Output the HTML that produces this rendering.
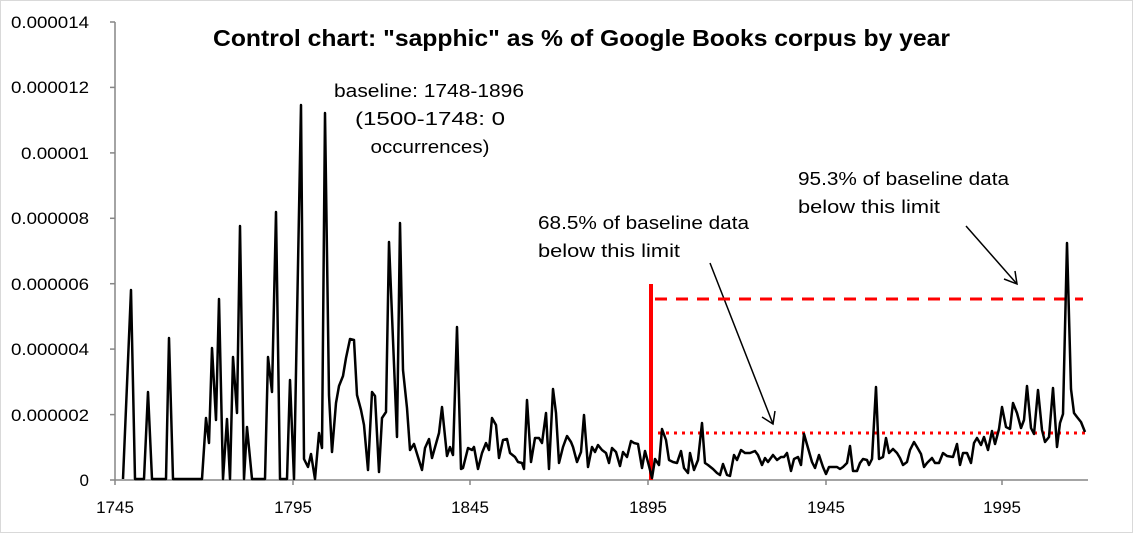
<!DOCTYPE html>
<html><head><meta charset="utf-8"><style>
body{margin:0;background:#fff}
svg{display:block;font-family:"Liberation Sans",sans-serif}
</style></head><body>
<svg width="1133" height="533" viewBox="0 0 1133 533" xmlns="http://www.w3.org/2000/svg">
<rect x="0.5" y="0.5" width="1132" height="532" fill="#fff" stroke="#d9d9d9"/>
<g stroke="#868686" stroke-width="1.5" fill="none">
<line x1="115" y1="22" x2="115" y2="480"/>
<line x1="115" y1="480" x2="1088" y2="480"/>
<line x1="110" y1="22" x2="115" y2="22"/><line x1="110" y1="87.4" x2="115" y2="87.4"/>
<line x1="110" y1="152.9" x2="115" y2="152.9"/><line x1="110" y1="218.3" x2="115" y2="218.3"/>
<line x1="110" y1="283.7" x2="115" y2="283.7"/><line x1="110" y1="349.1" x2="115" y2="349.1"/>
<line x1="110" y1="414.6" x2="115" y2="414.6"/><line x1="110" y1="480" x2="115" y2="480"/>
<line x1="115" y1="480" x2="115" y2="485"/><line x1="293" y1="480" x2="293" y2="485"/>
<line x1="470" y1="480" x2="470" y2="485"/><line x1="648" y1="480" x2="648" y2="485"/>
<line x1="826" y1="480" x2="826" y2="485"/><line x1="1002" y1="480" x2="1002" y2="485"/>
</g>
<g font-size="17" fill="#000" text-anchor="end">
<text x="89" y="28" textLength="78" lengthAdjust="spacingAndGlyphs">0.000014</text><text x="89" y="93" textLength="78" lengthAdjust="spacingAndGlyphs">0.000012</text>
<text x="89" y="159" textLength="68" lengthAdjust="spacingAndGlyphs">0.00001</text><text x="89" y="224" textLength="78" lengthAdjust="spacingAndGlyphs">0.000008</text>
<text x="89" y="290" textLength="78" lengthAdjust="spacingAndGlyphs">0.000006</text><text x="89" y="355" textLength="78" lengthAdjust="spacingAndGlyphs">0.000004</text>
<text x="89" y="421" textLength="78" lengthAdjust="spacingAndGlyphs">0.000002</text><text x="89" y="486">0</text>
</g>
<g font-size="17" fill="#000" text-anchor="middle">
<text x="115" y="513">1745</text><text x="293" y="513">1795</text><text x="470" y="513">1845</text>
<text x="648" y="513">1895</text><text x="826" y="513">1945</text><text x="1002" y="513">1995</text>
</g>
<text x="213" y="46" font-size="23" font-weight="bold" textLength="737" lengthAdjust="spacingAndGlyphs">Control chart: "sapphic" as % of Google Books corpus by year</text>
<g font-size="18" text-anchor="middle">
<text x="429" y="97" textLength="190" lengthAdjust="spacingAndGlyphs">baseline: 1748-1896</text>
<text x="430" y="125" textLength="150" lengthAdjust="spacingAndGlyphs">(1500-1748: 0</text>
<text x="430" y="153" textLength="119" lengthAdjust="spacingAndGlyphs">occurrences)</text>
</g>
<g font-size="18">
<text x="538" y="229" textLength="211" lengthAdjust="spacingAndGlyphs">68.5% of baseline data</text>
<text x="538" y="257" textLength="142" lengthAdjust="spacingAndGlyphs">below this limit</text>
<text x="798" y="185" textLength="211" lengthAdjust="spacingAndGlyphs">95.3% of baseline data</text>
<text x="798" y="213" textLength="142" lengthAdjust="spacingAndGlyphs">below this limit</text>
</g>
<g stroke="#000" stroke-width="1.5" fill="none">
<line x1="710" y1="263" x2="773" y2="424"/><polyline points="762,417 773,424 775,411"/>
<line x1="966" y1="226" x2="1017" y2="284"/><polyline points="1004,279 1017,284 1015,271"/>
</g>
<g stroke="#ff0000" fill="none">
<line x1="651" y1="284" x2="651" y2="480" stroke-width="4"/>
<line x1="655" y1="299" x2="1083" y2="299" stroke-width="3" stroke-dasharray="12,9"/>
<line x1="658" y1="433" x2="1085" y2="433" stroke-width="3" stroke-dasharray="3,5"/>
</g>
<polyline fill="none" stroke="#000" stroke-width="2.5" stroke-linejoin="round" points="123,479 131,290 135,479 144,479 148,392 152,479 166,479 169,338 173,479 202,479 206,418 209,443 212,348 216,420 219,299 223,479 227,419 230,479 233,357 237,413 240,226 244,479 247,427 252,479 265,479 268,357 272,392 276,212 280,479 287,479 290,380 294,479 301,105 304,459 308,467 311,454 315,479 319,433 322,448 325,113 329,395 332,452 336,403 339,386 343,376 346,358 350,339 354,340 357,395 361,410 364,425 368,470 372,392 375,396 379,472 382,418 386,412 389,242 393,340 397,437 400,223 403,370 407,408 410,450 414,444 422,470 425,448 429,439 432,458 439,433 442,407 447,456 450,447 453,455 457,327 461,469 463,468 468,448 472,450 474,447 478,469 482,453 486,443 489,450 492,418 496,425 499,458 503,440 507,439 510,453 515,457 518,462 522,463 524,469 527,400 531,462 535,438 539,438 542,443 546,413 549,469 553,389 556,413 559,463 563,447 567,436 571,442 573,447 577,462 581,452 584,415 588,467 592,447 595,452 598,445 602,450 606,453 609,463 612,448 616,452 620,466 623,452 627,457 631,441 634,443 638,444 642,468 645,451 649,466 652,478 655,459 659,465 662,429 666,440 669,460 673,462 677,463 681,451 684,468 688,473 690,453 694,470 698,460 702,423 705,463 708,465 713,469 717,473 720,475 723,464 727,475 730,476 734,455 737,460 741,450 745,453 750,453 755,451 758,455 762,465 765,458 768,462 773,455 777,460 781,457 784,457 787,453 791,471 794,459 798,457 801,465 804,434 808,448 812,462 815,468 819,455 823,467 826,474 829,467 837,467 840,469 843,467 847,463 850,446 853,471 857,471 860,463 863,459 867,460 869,465 872,459 876,387 879,459 883,457 886,438 889,453 893,449 897,453 900,458 903,465 907,462 910,450 914,442 917,447 921,454 924,467 927,463 932,458 935,463 939,463 943,453 947,456 953,457 957,444 960,465 963,453 967,453 971,463 974,443 977,438 981,445 984,437 988,450 992,431 995,444 999,429 1002,407 1006,427 1010,429 1013,403 1017,413 1021,428 1024,420 1027,386 1031,428 1034,434 1038,390 1042,430 1045,442 1049,437 1053,388 1057,447 1060,423 1063,414 1067,243 1071,389 1074,413 1077,417 1081,422 1085,432"/>
</svg>
</body></html>
